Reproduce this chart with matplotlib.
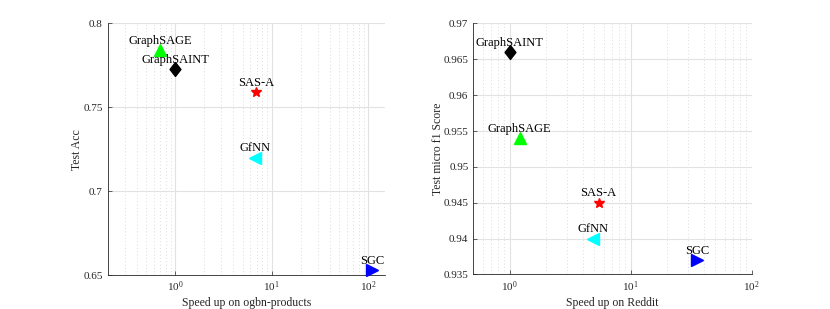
import matplotlib
matplotlib.use("Agg")
import matplotlib.pyplot as plt
from matplotlib.ticker import LogLocator, FixedLocator, FormatStrFormatter, LogFormatterMathtext, NullFormatter

plt.rcParams['font.family'] = ['Liberation Serif', 'DejaVu Serif']
plt.rcParams['mathtext.fontset'] = 'stix'

methods = ["GraphSAGE", "GraphSAINT", "SAS-A", "GfNN", "SGC"]
diamond = [(0, 1), (0.78, 0), (0, -1), (-0.78, 0), (0, 1)]
markers = ["^", diamond, "*", "<", ">"]
msizes = [8, 10, 7.5, 8, 8]
colors = ["#00ff00", "#000000", "#ff0000", "#00ffff", "#0000ff"]

prod_speed = [0.70, 1.0, 6.84, 6.7, 110]
prod_acc = [0.784, 0.773, 0.759, 0.720, 0.653]

reddit_speed = [1.21, 1.0, 5.42, 4.87, 35.4]
reddit_f1 = [0.954, 0.966, 0.945, 0.940, 0.937]

prod_yticks = [0.65, 0.7, 0.75, 0.8]
reddit_yticks = [0.935, 0.94, 0.945, 0.95, 0.955, 0.96, 0.965, 0.97]

fig = plt.figure(figsize=(8.3, 3.09), dpi=100)
ax1 = fig.add_axes([0.1298, 0.110, 0.3341, 0.814])
ax2 = fig.add_axes([0.5702, 0.112, 0.3355, 0.812])

axc = "#262626"

def setup(ax, xs, ys, xlim, ylim, yticks, xlabel, ylabel, ylab_x):
    ax.set_xscale("log")
    for m, x, y, mk, ms, c in zip(methods, xs, ys, markers, msizes, colors):
        ax.plot([x], [y], linestyle="none", marker=mk, color=c, markersize=ms,
                markeredgecolor=c, zorder=3, clip_on=False)
        ax.annotate(m, (x, y), xytext=(0, 4.5), textcoords="offset points",
                    ha="center", va="baseline", fontsize=9, color="black", zorder=4)
    ax.set_xlim(*xlim)
    ax.set_ylim(*ylim)
    ax.yaxis.set_major_locator(FixedLocator(yticks))
    ax.yaxis.set_major_formatter(FormatStrFormatter('%g'))
    ax.xaxis.set_major_locator(LogLocator(base=10, numticks=10))
    ax.xaxis.set_major_formatter(LogFormatterMathtext())
    ax.xaxis.set_minor_locator(LogLocator(base=10, subs=range(2, 10), numticks=20))
    ax.xaxis.set_minor_formatter(NullFormatter())
    ax.grid(True, which="major", color="#e2e2e2", linewidth=0.8, linestyle="-")
    ax.grid(True, which="minor", axis="x", color="#d0d0d0", linewidth=0.6, linestyle=(0, (1, 3)))
    ax.set_axisbelow(True)
    for s in ["top", "right"]:
        ax.spines[s].set_visible(False)
    for s in ["left", "bottom"]:
        ax.spines[s].set_color(axc)
        ax.spines[s].set_linewidth(0.6)
    ax.tick_params(which="both", direction="in", colors=axc, labelsize=8, width=0.5)
    ax.tick_params(which="major", length=3)
    ax.tick_params(axis="x", which="minor", length=0)
    ax.set_xlabel(xlabel, fontsize=8.5, color=axc, labelpad=2)
    ax.set_ylabel(ylabel, fontsize=8.5, color=axc)
    ax.yaxis.set_label_coords(ylab_x, 0.5)

setup(ax1, prod_speed, prod_acc, (0.2, 150), (0.65, 0.8), prod_yticks,
      "Speed up on ogbn-products", "Test Acc", -0.088)
setup(ax2, reddit_speed, reddit_f1, (0.5, 100), (0.935, 0.97), reddit_yticks,
      "Speed up on Reddit", "Test micro f1 Score", -0.105)

fig.savefig("out.png", dpi=100)
